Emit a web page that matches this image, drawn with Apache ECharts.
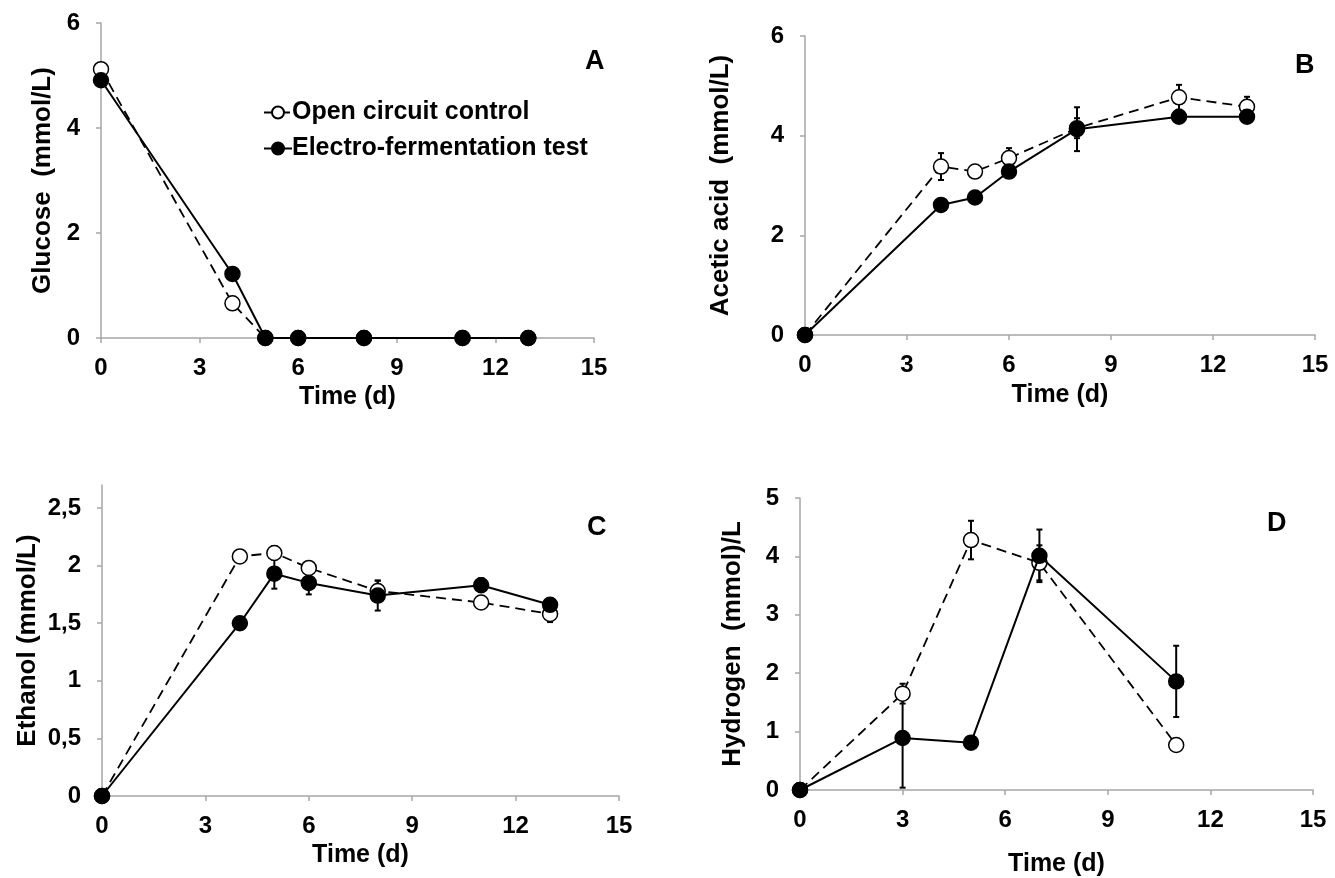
<!DOCTYPE html>
<html>
<head>
<meta charset="utf-8">
<script src="https://cdn.jsdelivr.net/npm/echarts@6/dist/echarts.min.js"></script>
<style>
  html, body { margin: 0; padding: 0; background: #fff; }
  #chart { width: 1335px; height: 878px; }
</style>
</head>
<body>
<div id="chart"></div>
<script>
// time points (days)
const daysABC = [0, 4, 5, 6, 8, 11, 13];
const daysD = [0, 3, 5, 7, 11];

// A - glucose
const glucoseOpen = [5.12, 0.66, 0, 0, 0, 0, 0];
const glucoseElectro = [4.91, 1.22, 0, 0, 0, 0, 0];

// B - acetic acid
const aceticOpen = [0, 3.38, 3.28, 3.55, 4.15, 4.77, 4.58];
const aceticOpenSd = [0, 0.27, 0.05, 0.2, 0.2, 0.25, 0.2];
const aceticElectro = [0, 2.61, 2.76, 3.28, 4.13, 4.38, 4.38];
const aceticElectroSd = [0, 0.05, 0.05, 0.05, 0.44, 0.1, 0.05];

// C - ethanol
const ethanolOpen = [0, 2.08, 2.11, 1.98, 1.78, 1.68, 1.58];
const ethanolOpenSd = [0, 0.03, 0.06, 0.03, 0.09, 0.03, 0.07];
const ethanolElectro = [0, 1.50, 1.93, 1.85, 1.74, 1.83, 1.66];
const ethanolElectroSd = [0, 0.03, 0.13, 0.1, 0.13, 0.06, 0.03];

// D - hydrogen
const hydrogenOpen = [0, 1.65, 4.28, 3.89, 0.77];
const hydrogenOpenSd = [0, 0.17, 0.33, 0.3, 0.03];
const hydrogenElectro = [0, 0.89, 0.81, 4.01, 1.86];
const hydrogenElectroSd = [0, 0.85, 0.03, 0.45, 0.61];

const ethanolTicks = [0, 0.5, 1, 1.5, 2, 2.5];

const OPEN = 'Open circuit control';
const ELECTRO = 'Electro-fermentation test';
const FONT = "'Liberation Sans', Arial, sans-serif";

const chart = echarts.init(document.getElementById('chart'));

const pairs = (xs, ys) => xs.map((x, i) => [x, ys[i]]);
const triples = (xs, ys, sd) => xs.map((x, i) => [x, ys[i], sd[i]]);

const labelStyle = { color: '#000', fontFamily: FONT, fontWeight: 'bold', fontSize: 24 };
const nameStyle = size => ({ color: '#000', fontFamily: FONT, fontWeight: 'bold', fontSize: size });
const axisGray = '#a6a6a6';

function xAxis(gridIndex, nameGap) {
    return {
        gridIndex, type: 'value', min: 0, max: 15, interval: 3,
        name: 'Time (d)', nameLocation: 'middle', nameGap: nameGap,
        nameTextStyle: nameStyle(25),
        axisLine: { lineStyle: { color: axisGray, width: 1.5 } },
        axisTick: { inside: false, length: 5, lineStyle: { color: axisGray, width: 1.5 } },
        axisLabel: Object.assign({ margin: 18 }, labelStyle),
        splitLine: { show: false }
    };
}

function yAxis(gridIndex, name, max, interval, nameGap, extra) {
    return Object.assign({
        gridIndex, type: 'value', min: 0, max: max, interval: interval,
        name: name, nameLocation: 'middle', nameRotate: 90, nameGap: nameGap,
        nameTextStyle: nameStyle(26),
        axisLine: { show: true, lineStyle: { color: axisGray, width: 1.5 } },
        axisTick: { show: true, inside: false, length: 5, lineStyle: { color: axisGray, width: 1.5 } },
        axisLabel: Object.assign({ margin: 21 }, labelStyle),
        splitLine: { show: false }
    }, extra || {});
}

function lineSeries(name, idx, data, open) {
    return {
        name: name, type: 'line', xAxisIndex: idx, yAxisIndex: idx,
        data: data, symbol: 'circle', symbolSize: 15,
        z: open ? 3 : 4,
        lineStyle: { color: '#000', width: open ? 1.8 : 2, type: open ? [10, 6] : 'solid' },
        itemStyle: { color: open ? '#fff' : '#000', borderColor: '#000', borderWidth: 1.5 },
        emphasis: { disabled: true }
    };
}

function errorSeries(idx, data) {
    return {
        type: 'custom', xAxisIndex: idx, yAxisIndex: idx, z: 2,
        silent: true, data: data,
        renderItem: (params, api) => {
            const x = api.value(0), y = api.value(1), sd = api.value(2);
            if (!sd) return null;
            const top = api.coord([x, y + sd]);
            const bot = api.coord([x, y - sd]);
            const cap = 3;
            const style = { stroke: '#000', lineWidth: 2 };
            return {
                type: 'group',
                children: [
                    { type: 'line', shape: { x1: top[0], y1: top[1], x2: bot[0], y2: bot[1] }, style },
                    { type: 'line', shape: { x1: top[0] - cap, y1: top[1], x2: top[0] + cap, y2: top[1] }, style },
                    { type: 'line', shape: { x1: bot[0] - cap, y1: bot[1], x2: bot[0] + cap, y2: bot[1] }, style }
                ]
            };
        }
    };
}

const commaFmt = v => String(v).replace('.', ',');

const option = {
    backgroundColor: '#fff',
    animation: false,
    textStyle: { fontFamily: FONT },
    title: [
        { text: 'A', left: 580, top: 43 },
        { text: 'B', left: 1290, top: 47 },
        { text: 'C', left: 582, top: 509 },
        { text: 'D', left: 1262, top: 505 }
    ].map(t => Object.assign(t, { textStyle: { color: '#000', fontFamily: FONT, fontWeight: 'bold', fontSize: 27 } })),
    legend: {
        data: [OPEN, ELECTRO],
        orient: 'vertical', left: 258, top: 95,
        itemWidth: 28, itemHeight: 15, itemGap: 11,
        selectedMode: false,
        textStyle: { color: '#000', fontFamily: FONT, fontWeight: 'bold', fontSize: 25, padding: [0, 0, 0, -5] }
    },
    grid: [
        { left: 101, top: 23, width: 493, height: 315 },
        { left: 805, top: 36, width: 510, height: 299 },
        { left: 102, top: 485, width: 517, height: 311 },
        { left: 800, top: 498, width: 513, height: 295 }
    ],
    xAxis: [xAxis(0, 47), xAxis(1, 48), xAxis(2, 47), xAxis(3, 62)],
    yAxis: [
        yAxis(0, 'Glucose  (mmol/L)', 6, 2, 45),
        yAxis(1, 'Acetic acid  (mmol/L)', 6, 2, 71),
        yAxis(2, 'Ethanol (mmol/L)', 2.7, 0.5, 61, {
            axisTick: { show: true, inside: false, length: 5, customValues: ethanolTicks, lineStyle: { color: axisGray, width: 1.5 } },
            axisLabel: Object.assign({ margin: 21, customValues: ethanolTicks, formatter: commaFmt }, labelStyle)
        }),
        yAxis(3, 'Hydrogen  (mmol)/L', 5, 1, 54)
    ],
    series: [
        lineSeries(OPEN, 0, pairs(daysABC, glucoseOpen), true),
        lineSeries(ELECTRO, 0, pairs(daysABC, glucoseElectro), false),

        errorSeries(1, triples(daysABC, aceticOpen, aceticOpenSd)),
        errorSeries(1, triples(daysABC, aceticElectro, aceticElectroSd)),
        lineSeries(OPEN, 1, pairs(daysABC, aceticOpen), true),
        lineSeries(ELECTRO, 1, pairs(daysABC, aceticElectro), false),

        errorSeries(2, triples(daysABC, ethanolOpen, ethanolOpenSd)),
        errorSeries(2, triples(daysABC, ethanolElectro, ethanolElectroSd)),
        lineSeries(OPEN, 2, pairs(daysABC, ethanolOpen), true),
        lineSeries(ELECTRO, 2, pairs(daysABC, ethanolElectro), false),

        errorSeries(3, triples(daysD, hydrogenOpen, hydrogenOpenSd)),
        errorSeries(3, triples(daysD, hydrogenElectro, hydrogenElectroSd)),
        lineSeries(OPEN, 3, pairs(daysD, hydrogenOpen), true),
        lineSeries(ELECTRO, 3, pairs(daysD, hydrogenElectro), false)
    ]
};

chart.setOption(option);
</script>
</body>
</html>
